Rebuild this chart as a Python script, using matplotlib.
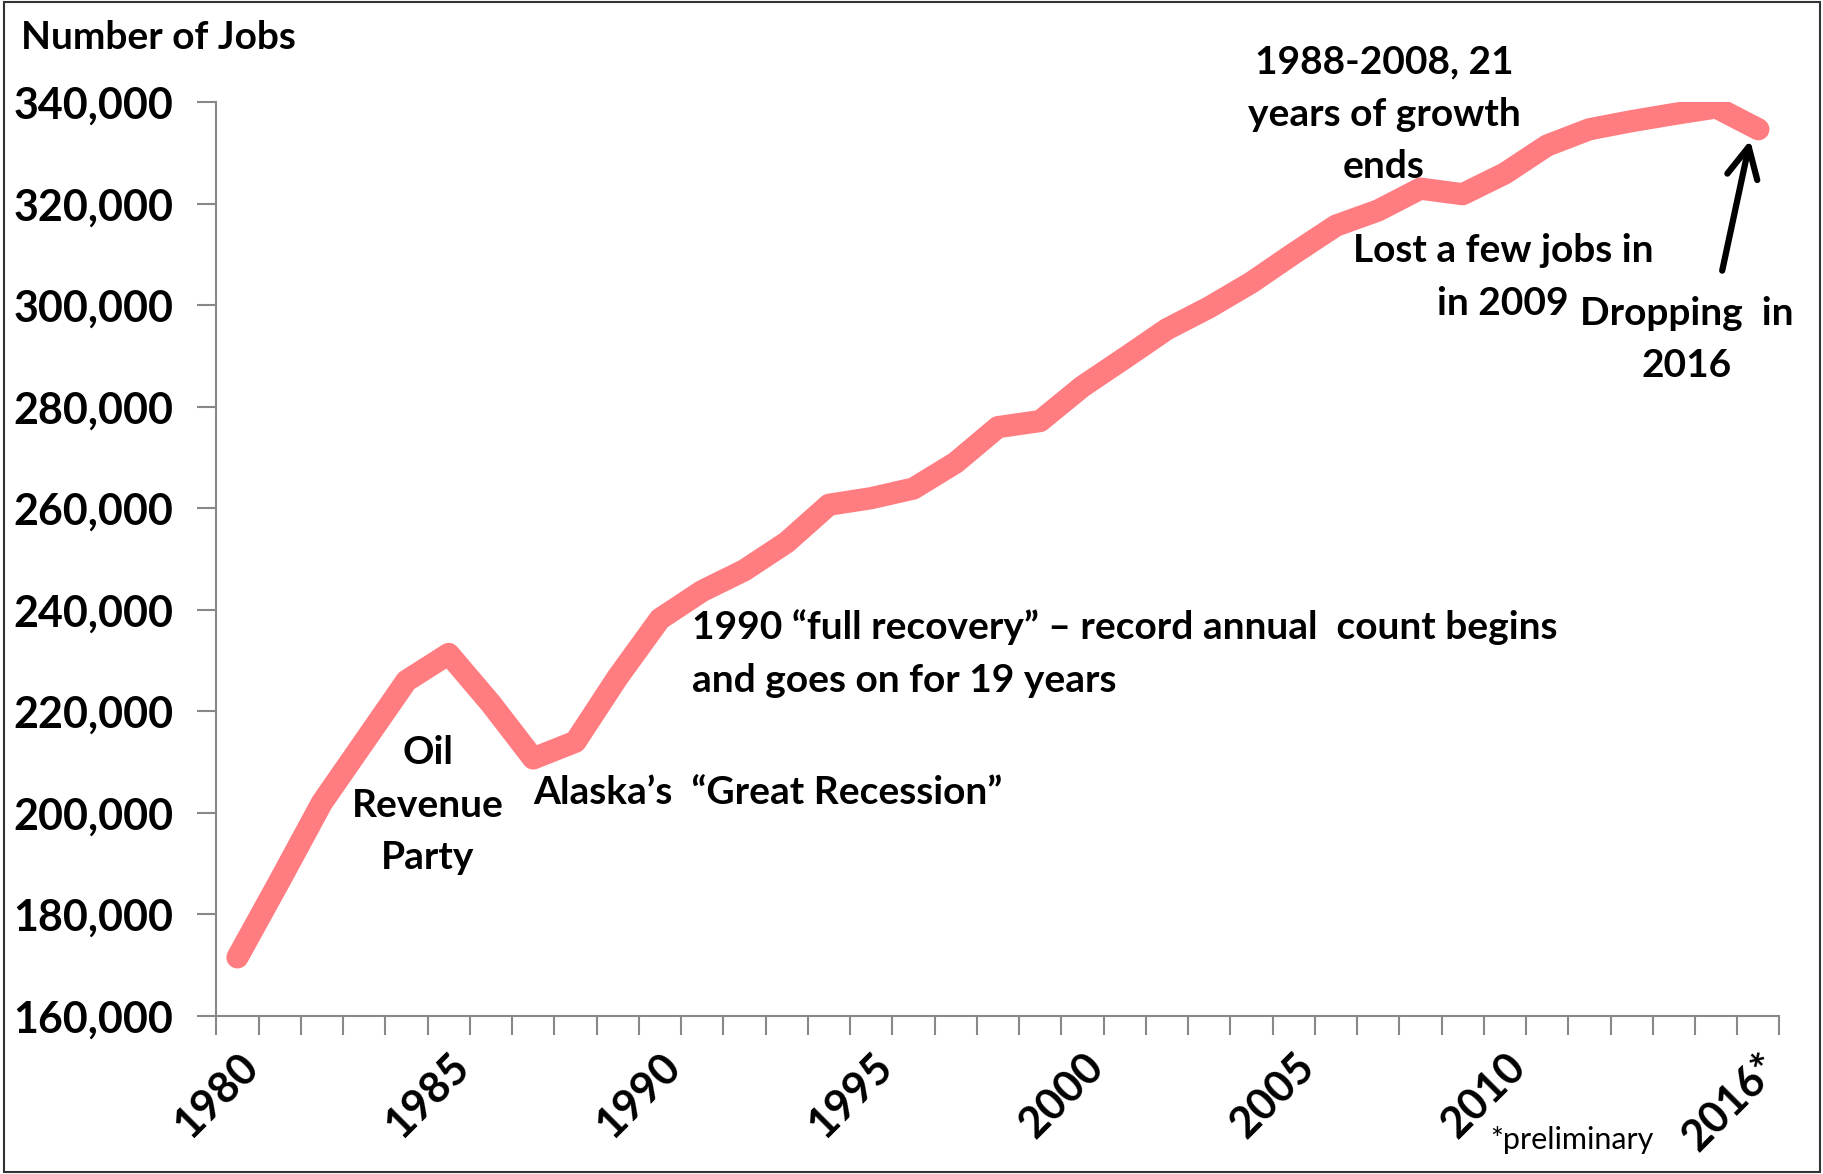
import numpy as np
import matplotlib
matplotlib.use("Agg")
import matplotlib.pyplot as plt
from matplotlib.patches import Rectangle
from matplotlib.ticker import FuncFormatter

plt.rcParams['font.family'] = ['Lato', 'DejaVu Sans']

# Alaska wage and salary jobs, annual averages
years = list(range(1980, 2017))
jobs = [171500, 186600, 202000, 214000, 226000, 231300, 221500, 210700,
        214000, 226700, 238200, 243700, 247800, 253300, 260700, 262000,
        263900, 269000, 276000, 277200, 284000, 289600, 295300, 299600,
        304500, 310200, 315700, 318700, 323000, 321900, 326000, 331500,
        334700, 336300, 337700, 339000, 334700]
tick_years = [1980, 1985, 1990, 1995, 2000, 2005, 2010, 2016]
tick_text = ["1980", "1985", "1990", "1995", "2000", "2005", "2010", "2016*"]

fig = plt.figure(figsize=(18.24, 11.74), dpi=100)
ax = fig.add_axes([0.1186, 0.1348, 0.857, 0.778])

x = np.arange(len(years))
ax.plot(x, jobs, color="#FF7C80", lw=16, solid_capstyle="round",
        solid_joinstyle="round")

ax.set_xlim(-0.5, len(years) - 0.5)
ax.set_ylim(160000, 340000)
ax.set_yticks(np.arange(160000, 340001, 20000))
ax.yaxis.set_major_formatter(FuncFormatter(lambda v, p: f"{int(v):,}"))

# Excel-style ticks between categories, labels on selected years
ax.set_xticks(np.arange(-0.5, len(years)), minor=False)
ax.set_xticklabels([])
ax.set_xticks([years.index(y) for y in tick_years], minor=True)
ax.set_xticklabels(tick_text, minor=True, rotation=45, ha="right",
                   va="top", rotation_mode="anchor", fontsize=31,
                   fontweight="bold")
ax.tick_params(axis="x", which="minor", length=0, pad=22)
ax.tick_params(axis="x", which="major", length=14, width=1.5, color="#888888",
               direction="out")
ax.tick_params(axis="y", length=14, width=1.5, color="#888888", pad=17,
               labelsize=31)
for lab in ax.get_yticklabels():
    lab.set_fontweight("bold")

for s in ["top", "right"]:
    ax.spines[s].set_visible(False)
for s in ["left", "bottom"]:
    ax.spines[s].set_color("#888888")
    ax.spines[s].set_linewidth(1.5)

fs = 28
ls = 1.6
ax.text(27.14, 337700, "1988-2008, 21\nyears of growth\nends", ha="center",
        va="center", fontsize=fs, fontweight="bold", linespacing=ls,
        clip_on=False)
ax.text(29.95, 305600, "Lost a few jobs in\nin 2009", ha="center",
        va="center", fontsize=fs, fontweight="bold", linespacing=ls)
ax.text(34.3, 293300, "Dropping  in\n2016", ha="center", va="center",
        fontsize=fs, fontweight="bold", linespacing=ls)
ax.text(10.76, 231400,
        "1990 \u201cfull recovery\u201d \u2013 record annual  count begins\n"
        "and goes on for 19 years",
        ha="left", va="center", fontsize=fs, fontweight="bold",
        linespacing=ls)
ax.text(6.99, 204000, "Alaska\u2019s  \u201cGreat Recession\u201d", ha="left",
        va="center", fontsize=fs, fontweight="bold")
ax.text(4.51, 201500, "Oil\nRevenue\nParty", ha="center", va="center",
        fontsize=fs, fontweight="bold", linespacing=ls)

ax.annotate("", xy=(35.82, 333100), xytext=(35.13, 306300),
            arrowprops=dict(arrowstyle="->", color="black", lw=4.5,
                            mutation_scale=55))

fig.text(0.0115, 0.968, "Number of Jobs", ha="left", va="center",
         fontsize=28, fontweight="bold")
fig.text(0.862, 0.029, "*preliminary", ha="center", va="center",
         fontsize=22)

fig.patches.append(Rectangle((0.002, 0.002), 0.996, 0.996,
                             transform=fig.transFigure, fill=False,
                             edgecolor="#333333", lw=1.5))

fig.savefig("out.png", dpi=100)
